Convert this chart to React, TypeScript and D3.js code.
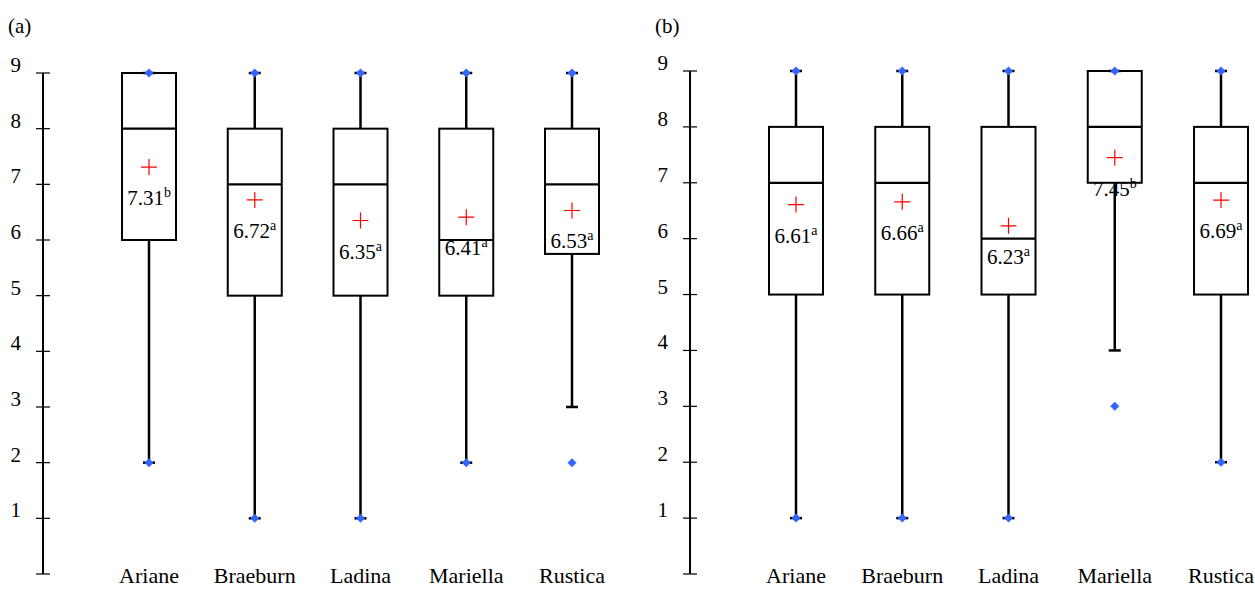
import { useRef, useEffect } from "react"
import * as d3 from "d3"

const cultivars = ["Ariane", "Braeburn", "Ladina", "Mariella", "Rustica"]
const yTicks = [0, 1, 2, 3, 4, 5, 6, 7, 8, 9]

// panel (a)
const aQ1 = [6, 5, 5, 5, 5.75]
const aMedian = [8, 7, 7, 6, 7]
const aQ3 = [9, 8, 8, 8, 8]
const aWhiskLow = [2, 1, 1, 2, 3]
const aWhiskHigh = [9, 9, 9, 9, 9]
const aMin = [2, 1, 1, 2, 2]
const aMax = [9, 9, 9, 9, 9]
const aMean = [7.31, 6.72, 6.35, 6.41, 6.53]
const aLetter = ["b", "a", "a", "a", "a"]

// panel (b)
const bQ1 = [5, 5, 5, 7, 5]
const bMedian = [7, 7, 6, 8, 7]
const bQ3 = [8, 8, 8, 9, 8]
const bWhiskLow = [1, 1, 1, 4, 2]
const bWhiskHigh = [9, 9, 9, 9, 9]
const bMin = [1, 1, 1, 3, 2]
const bMax = [9, 9, 9, 9, 9]
const bMean = [6.61, 6.66, 6.23, 7.45, 6.69]
const bLetter = ["a", "a", "a", "b", "a"]

const FONT = "'Liberation Serif', 'Times New Roman', serif"

type Panel = {
  label: string
  axisX: number
  top: number
  first: number
  last: number
  q1: number[]
  med: number[]
  q3: number[]
  wl: number[]
  wh: number[]
  mn: number[]
  mx: number[]
  mean: number[]
  letter: string[]
}

const panels: Panel[] = [
  { label: "(a)", axisX: 43, top: 73, first: 149, last: 572, q1: aQ1, med: aMedian, q3: aQ3, wl: aWhiskLow, wh: aWhiskHigh, mn: aMin, mx: aMax, mean: aMean, letter: aLetter },
  { label: "(b)", axisX: 690, top: 71, first: 796, last: 1221, q1: bQ1, med: bMedian, q3: bQ3, wl: bWhiskLow, wh: bWhiskHigh, mn: bMin, mx: bMax, mean: bMean, letter: bLetter },
]

const App = () => {
  const svgRef = useRef<SVGSVGElement>(null)

  useEffect(() => {
    const svg = d3.select(svgRef.current)
    svg.selectAll("*").remove()

    panels.forEach((p) => {
      const g = svg.append("g")
      const y = d3.scaleLinear().domain([0, 9]).range([574, p.top])
      const x = d3.scalePoint<string>().domain(cultivars).range([p.first, p.last])
      const bw = 54

      // panel label
      g.append("text")
        .attr("x", p.axisX - 35)
        .attr("y", 33)
        .style("font-family", FONT)
        .style("font-size", "21px")
        .text(p.label)

      // y axis
      g.append("line")
        .attr("x1", p.axisX).attr("x2", p.axisX)
        .attr("y1", y(0)).attr("y2", y(9))
        .attr("stroke", "#000").attr("stroke-width", 2)
      yTicks.forEach((t) => {
        g.append("line")
          .attr("x1", p.axisX - 7).attr("x2", p.axisX + 7)
          .attr("y1", y(t)).attr("y2", y(t))
          .attr("stroke", "#000").attr("stroke-width", 1.2)
        if (t > 0) {
          g.append("text")
            .attr("x", p.axisX - 22)
            .attr("y", y(t) - 1)
            .attr("text-anchor", "end")
            .style("font-family", FONT)
            .style("font-size", "21px")
            .text(t)
        }
      })

      cultivars.forEach((c, i) => {
        const cx = x(c) as number
        // whiskers
        g.append("line")
          .attr("x1", cx).attr("x2", cx)
          .attr("y1", y(p.wl[i])).attr("y2", y(p.q1[i]))
          .attr("stroke", "#000").attr("stroke-width", 2.5)
        g.append("line")
          .attr("x1", cx).attr("x2", cx)
          .attr("y1", y(p.q3[i])).attr("y2", y(p.wh[i]))
          .attr("stroke", "#000").attr("stroke-width", 2.5)
        // caps
        ;[p.wl[i], p.wh[i]].forEach((v) => {
          g.append("line")
            .attr("x1", cx - 6).attr("x2", cx + 6)
            .attr("y1", y(v)).attr("y2", y(v))
            .attr("stroke", "#000").attr("stroke-width", 2.5)
        })
        // box
        g.append("rect")
          .attr("x", cx - bw / 2).attr("width", bw)
          .attr("y", y(p.q3[i])).attr("height", y(p.q1[i]) - y(p.q3[i]))
          .attr("fill", "none").attr("stroke", "#000").attr("stroke-width", 2)
        g.append("line")
          .attr("x1", cx - bw / 2).attr("x2", cx + bw / 2)
          .attr("y1", y(p.med[i])).attr("y2", y(p.med[i]))
          .attr("stroke", "#000").attr("stroke-width", 2.2)
        // min / max markers
        ;[p.mn[i], p.mx[i]].forEach((v) => {
          const yy = y(v)
          g.append("path")
            .attr("d", `M${cx},${yy - 4.5}L${cx + 4.5},${yy}L${cx},${yy + 4.5}L${cx - 4.5},${yy}Z`)
            .attr("fill", "#3366ff")
        })
        // mean cross
        const my = y(p.mean[i])
        g.append("path")
          .attr("d", `M${cx - 8},${my}H${cx + 8}M${cx},${my - 8}V${my + 8}`)
          .attr("stroke", "#ff0000").attr("stroke-width", 1.2).attr("fill", "none")
        const t = g.append("text")
          .attr("x", cx)
          .attr("y", my + 38)
          .attr("text-anchor", "middle")
          .style("font-family", FONT)
          .style("font-size", "21px")
        t.append("tspan").text(p.mean[i].toFixed(2))
        t.append("tspan")
          .attr("dy", -8)
          .style("font-size", "14px")
          .text(p.letter[i])
        // category label
        g.append("text")
          .attr("x", cx)
          .attr("y", 583)
          .attr("text-anchor", "middle")
          .style("font-family", FONT)
          .style("font-size", "22px")
          .text(c)
      })
    })
  }, [])

  return (
    <svg
      ref={svgRef}
      width={1255}
      height={589}
      style={{ position: "absolute", left: 0, top: 0, background: "#fff" }}
    ></svg>
  )
}

export default App
